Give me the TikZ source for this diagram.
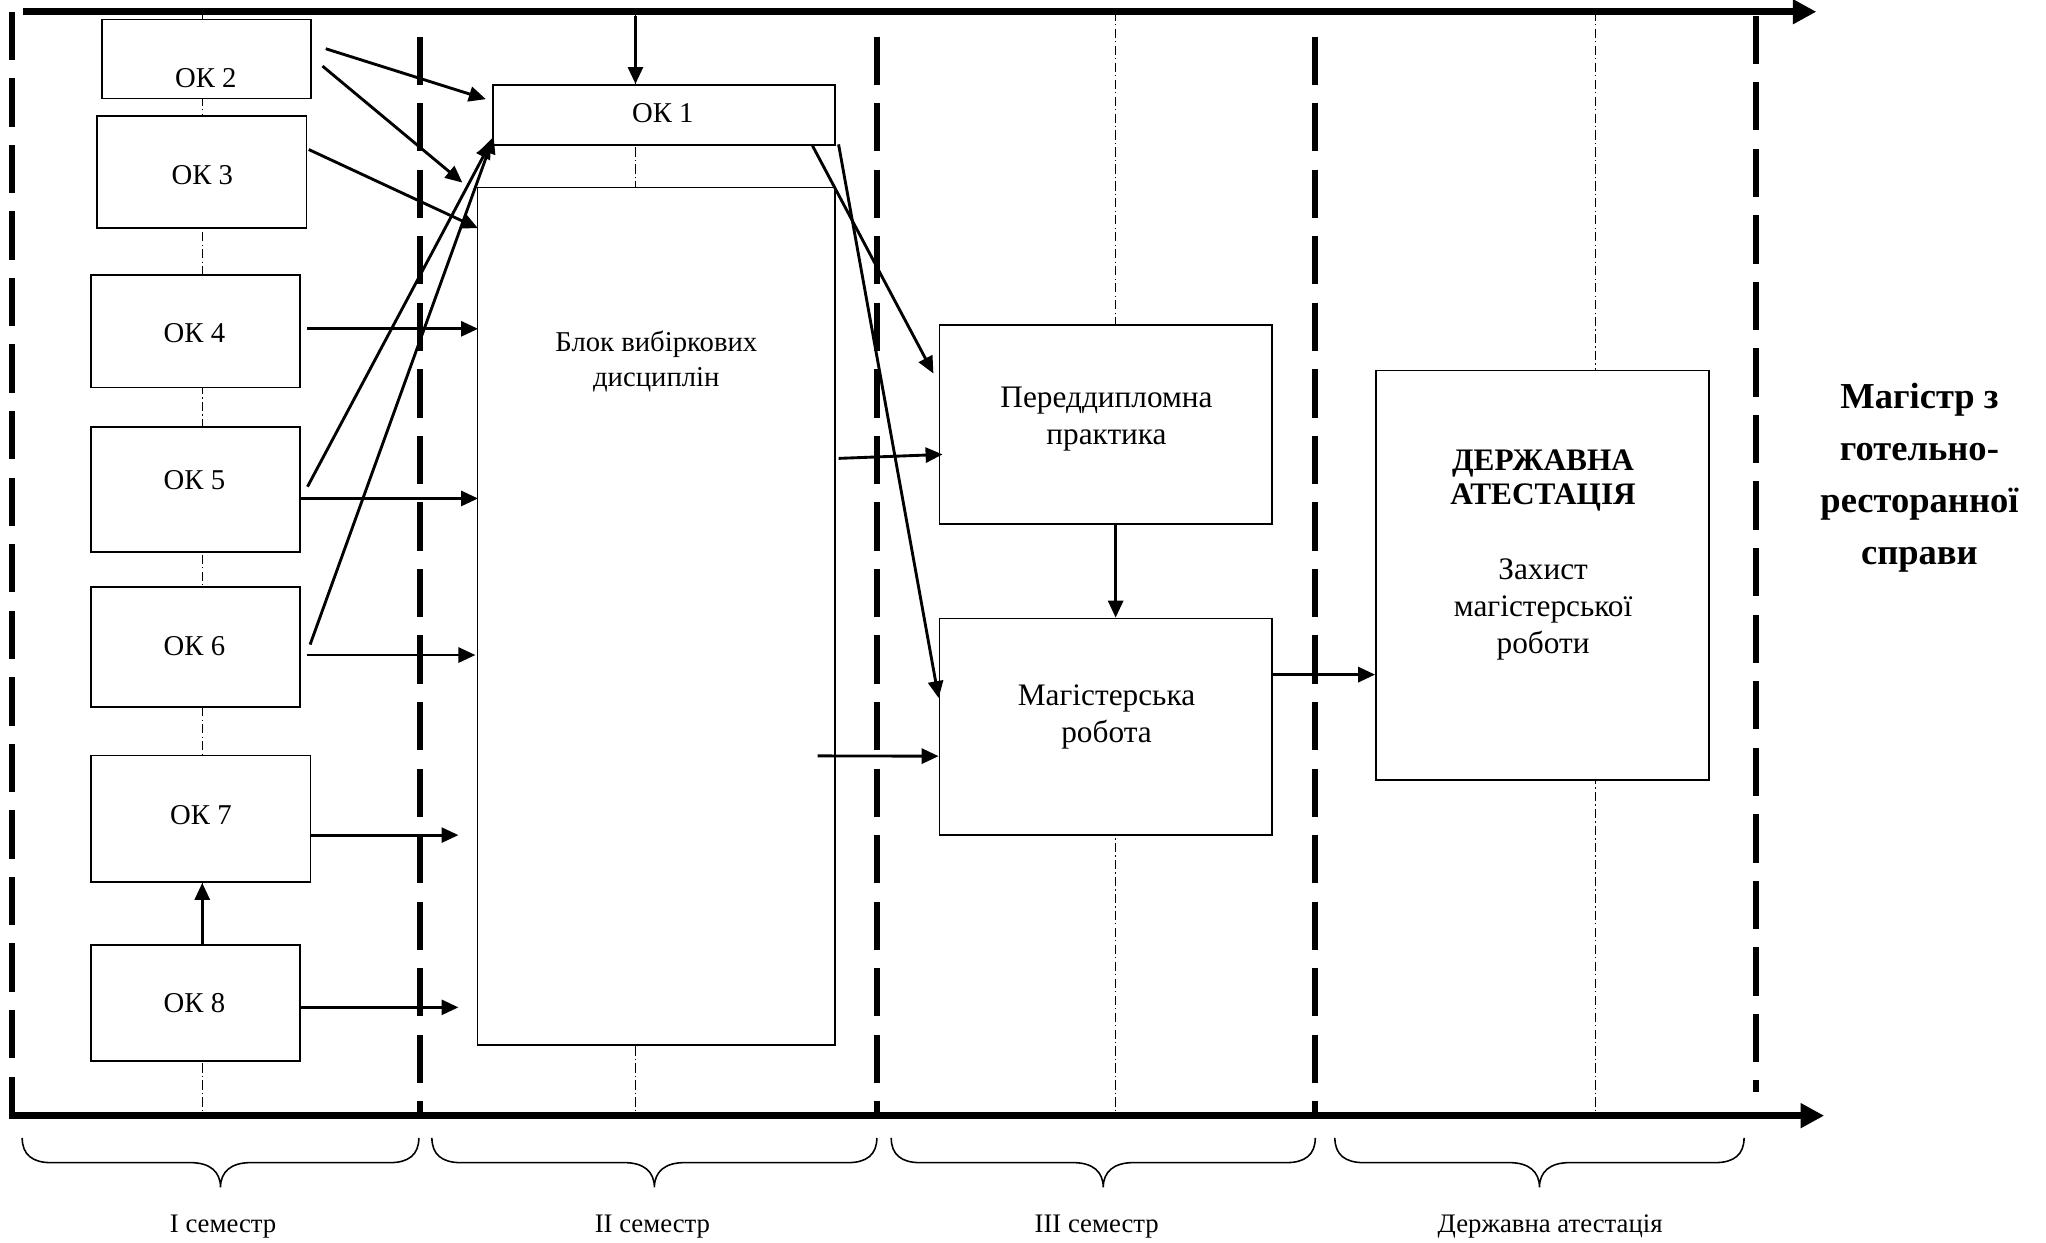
\documentclass[tikz,border=0pt]{standalone}
\usepackage{fontspec}
\setmainfont{Liberation Serif}
\usetikzlibrary{arrows.meta,calc}
\begin{document}
\begin{tikzpicture}[x=1pt,y=-1pt,
 box/.style={draw, line width=1.3pt, fill=white, inner sep=0pt},
 arr/.style={line width=2.2pt, -{Triangle[length=13pt,width=11.5pt]}},
 axisline/.style={line width=5.5pt, -{Triangle[length=18pt,width=18pt]}},
 sepline/.style={line width=4.5pt, dash pattern=on 37pt off 14pt},
 cline/.style={line width=0.8pt, dash pattern=on 7pt off 2.5pt on 1pt off 2.5pt},
 brc/.style={line width=1.2pt},
 oklbl/.style={font=\fontsize{22pt}{27pt}\selectfont, align=center, inner sep=0pt},
 biglbl/.style={font=\fontsize{24pt}{28.5pt}\selectfont, align=center, inner sep=0pt},
 botlbl/.style={font=\fontsize{20.5pt}{24pt}\selectfont, inner sep=0pt}]
\useasboundingbox (0,0) rectangle (1568,952);
\fill[white] (0,0) rectangle (1568,952);

% centre lines (dash-dot)
\foreach \cx in {155.5,487,855,1223}{
  \draw[cline] (\cx,9) -- (\cx,855);
}

% axes
\coordinate (tl) at (18,9);
\coordinate (tr) at (1392,9);
\coordinate (bl) at (7,855);
\coordinate (br) at (1398,855);
\draw[axisline] (tl) -- (tr);
\draw[axisline] (bl) -- (br);

% separators
\coordinate (s0a) at (9,9);     \coordinate (s0b) at (9,855);
\coordinate (s1a) at (322,28);  \coordinate (s1b) at (322,855);
\coordinate (s2a) at (672,28);  \coordinate (s2b) at (672,855);
\coordinate (s3a) at (1008,28); \coordinate (s3b) at (1008,855);
\coordinate (s4a) at (1345.6,12); \coordinate (s4b) at (1345.6,837);
\draw[sepline] (s0a) -- (s0b);
\draw[sepline] (s1a) -- (s1b);
\draw[sepline] (s2a) -- (s2b);
\draw[sepline] (s3a) -- (s3b);
\draw[sepline] (s4a) -- (s4b);

% boxes
\node[box, minimum width=160.5pt, minimum height=60.4pt] (ok2) at (158.25,45.2) {};
\node[box, minimum width=160.4pt, minimum height=85.8pt] (ok3) at (154.8,131.6) {};
\node[box, minimum width=160pt, minimum height=86pt] (ok4) at (150,254) {};
\node[box, minimum width=160pt, minimum height=96pt] (ok5) at (150,375) {};
\node[box, minimum width=160pt, minimum height=92pt] (ok6) at (150,496) {};
\node[box, minimum width=168pt, minimum height=97pt] (ok7) at (154,627.5) {};
\node[box, minimum width=160pt, minimum height=89pt] (ok8) at (150,768.5) {};
\node[box, minimum width=262pt, minimum height=46pt] (ok1) at (509,88) {};
\node[box, minimum width=274pt, minimum height=657.4pt] (block) at (503,472.3) {};
\node[box, minimum width=255pt, minimum height=152.5pt] (pred) at (847.5,325.25) {};
\node[box, minimum width=255pt, minimum height=166pt] (mag) at (847.5,557) {};
\node[box, minimum width=255pt, minimum height=314pt] (derzh) at (1182,441) {};

% box texts
\node[oklbl] (ok2t) at (157.7,60) {ОК 2};
\node[oklbl] (ok3t) at (155,134) {ОК 3};
\node[oklbl] (ok4t) at (149,255) {ОК 4};
\node[oklbl] (ok5t) at (149,368) {ОК 5};
\node[oklbl] (ok6t) at (149,495) {ОК 6};
\node[oklbl] (ok7t) at (154,625) {ОК 7};
\node[oklbl] (ok8t) at (149,769) {ОК 8};
\node[oklbl] (ok1t) at (508,87) {ОК 1};
\node[oklbl] (blockt) at (503,277) {Блок вибіркових\\дисциплін};
\node[biglbl] (predt) at (848,321) {Переддипломна\\практика};
\node[biglbl] (magt) at (848,549.5) {Магістерська\\робота};
\node[biglbl, font=\fontsize{24pt}{26pt}\selectfont\bfseries] (derzht1) at (1182.6,368.5) {ДЕРЖАВНА\\АТЕСТАЦІЯ};
\node[biglbl] (derzht2) at (1182.6,467) {Захист\\магістерської\\роботи};
\node[font=\fontsize{28pt}{40pt}\selectfont\bfseries, align=center, inner sep=0pt] (result) at (1471,366) {Магістр з\\готельно-\\ресторанної\\справи};

% arrows
\coordinate (a1) at (487,12);
\draw[arr] (a1) -- (a1 |- ok1.north);
\draw[arr] ($(ok2.north east)+(10.5,23)$) -- ($(ok1.west)+(-5,-12)$);
\draw[arr] ($(ok2.south east)+(8,-25.4)$) -- ($(block.north west)+(-11,-3)$);
\draw[arr] ($(ok3.east)+(1,-17)$) -- ($(block.north west)+(1,32)$);
\draw[arr] ($(ok4.east)+(5,-2)$) -- ($(ok4.east -| block.west)+(1,-2)$);
\draw[arr] ($(ok5.east)+(0,7)$) -- ($(ok5.east -| block.west)+(1,7)$);
\draw[arr] ($(ok5.east)+(5,-2)$) -- ($(ok1.south west)+(-1,-3)$);
\draw[arr] ($(ok6.east)+(5,6)$) -- ($(ok6.east -| block.west)+(-1,6)$);
\draw[arr] ($(ok6.east)+(7,-2)$) -- ($(ok1.south west)+(1,-7)$);
\draw[arr] ($(ok7.east)+(0,12.5)$) -- ($(ok7.east -| block.west)+(-14,12.5)$);
\draw[arr] ($(ok8.east)+(0,3.5)$) -- ($(ok8.east -| block.west)+(-14,3.5)$);
\draw[arr] ($(ok8.north)+(5,0)$) -- ($(ok7.south)+(1,0)$);
\draw[arr] ($(ok1.south east)+(-18,0)$) -- ($(pred.west)+(-4,-39)$);
\draw[arr] ($(ok1.south east)+(2,-1)$) -- ($(mag.west)+(0,-22)$);
\draw[arr] ($(block.east)+(2,-121)$) -- ($(pred.west)+(3,23)$);
\draw[arr] ($(block.east)+(-14,107)$) -- ($(mag.west)+(0,22.5)$);
\draw[arr] ($(pred.south)+(7.5,0)$) -- ($(mag.north)+(7.5,0)$);
\draw[arr] ($(mag.east)+(0,-40)$) -- ($(derzh.west)+(0,76)$);

% braces
\foreach \a/\b in {17/321, 331/672, 683/1008, 1023/1336.6}{
  \pgfmathsetmacro\m{(\a+\b)/2}
  \draw[brc] (\a,872) .. controls (\a,885) and (\a+8,891) .. (\a+22,891)
    -- (\m-23,891) .. controls (\m-8,891) and (\m,898) .. (\m,910)
    .. controls (\m,898) and (\m+8,891) .. (\m+23,891)
    -- (\b-22,891) .. controls (\b-8,891) and (\b,885) .. (\b,872);
}

% bottom labels
\node[botlbl] (sem1) at (171,940) {I семестр};
\node[botlbl] (sem2) at (500,940) {II семестр};
\node[botlbl] (sem3) at (840.5,940) {III семестр};
\node[botlbl] (sem4) at (1188,940) {Державна атестація};
\end{tikzpicture}
\end{document}
